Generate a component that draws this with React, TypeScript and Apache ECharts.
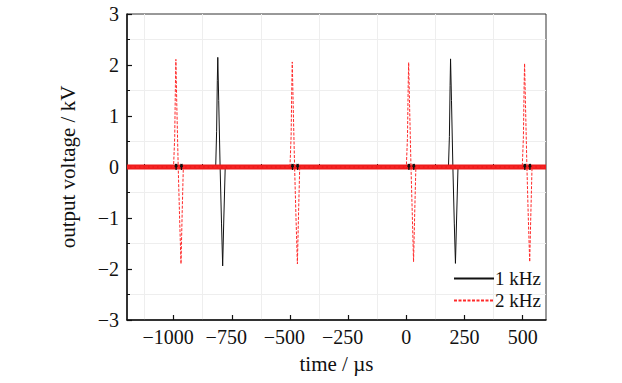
import React, { useEffect, useRef } from "react";
import * as echarts from "echarts";

const xMajorTicks = [-1000, -750, -500, -250, 0, 250, 500];
const xMinorTicks = [-1125, -875, -625, -375, -125, 125, 375];
const xRange = [-1200, 600];
const yRange = [-3, 3];

const seriesNames = ["1 kHz", "2 kHz"];

// 1 kHz trace (black): two bipolar pulses
const black1kHz: number[][] = [
  [-1200, 0],
  [-819, 0], [-815, 0.7], [-812, 1.7], [-810, 2.15], [-806, 1.3], [-800, 0],
  [-794, -1.1], [-789, -1.94], [-784, -1.0], [-778, 0],
  [181, 0], [185, 0.6], [188, 1.6], [190, 2.12], [194, 1.3], [200, 0],
  [206, -1.1], [211, -1.89], [216, -1.0], [222, 0],
  [600, 0],
];

// small ringing of the 1 kHz trace visible on top of the red baseline band
const blackRinging: (number[] | null)[] = [
  [-993, 0], [-991, 0.06], [-989, -0.06], [-987, 0.06], [-985, 0], null,
  [-970, 0], [-968, 0.06], [-966, -0.06], [-964, 0.06], [-962, 0], null,
  [-493, 0], [-491, 0.06], [-489, -0.06], [-487, 0.06], [-485, 0], null,
  [-471, 0], [-469, 0.06], [-467, -0.06], [-465, 0.06], [-463, 0], null,
  [7, 0], [9, 0.06], [11, -0.06], [13, 0.06], [15, 0], null,
  [28, 0], [30, 0.06], [32, -0.06], [34, 0.06], [36, 0], null,
  [505, 0], [507, 0.06], [509, -0.06], [511, 0.06], [513, 0], null,
  [527, 0], [529, 0.06], [531, -0.06], [533, 0.06], [535, 0],
];

// 2 kHz trace (red): four bipolar pulses
const red2kHz: number[][] = [
  [-1200, 0],
  [-1000, 0], [-995, 0.6], [-992, 1.6], [-990, 2.11], [-986, 1.2], [-980, 0],
  [-974, -1.0], [-968, -1.9], [-963, -0.9], [-958, 0],
  [-500, 0], [-495, 0.6], [-492, 1.6], [-490, 2.06], [-486, 1.2], [-480, 0],
  [-474, -1.0], [-468, -1.9], [-463, -0.9], [-458, 0],
  [0, 0], [5, 0.6], [8, 1.6], [10, 2.05], [14, 1.2], [20, 0],
  [26, -1.0], [31, -1.86], [36, -0.9], [41, 0],
  [498, 0], [503, 0.6], [506, 1.6], [508, 2.03], [512, 1.2], [518, 0],
  [524, -1.0], [530, -1.86], [535, -0.9], [540, 0],
  [600, 0],
];

// dense baseline noise band of the 2 kHz trace
const redBaseline: number[][] = [
  [-1200, 0],
  [600, 0],
];

const FONT = "Liberation Serif";
const TICK_SIZE = 20;

// x labels: digits centred on the tick, the minus sign hanging to the left
const xLabel = (v: number) =>
  v < 0 ? `{d|\u2212${Math.abs(v)}}{p|}` : `{d|${v}}`;
const yLabel = (v: number) => `{d|${String(v).replace("-", "\u2212")}}`;

const tickRich = {
  d: { fontFamily: FONT, fontSize: TICK_SIZE, color: "#111" },
  p: { fontFamily: FONT, fontSize: TICK_SIZE, width: 11 },
};

export default function App() {
  const ref = useRef<HTMLDivElement>(null);
  useEffect(() => {
    if (!ref.current) return;
    const chart = echarts.init(ref.current, null, { renderer: "svg" });
    chart.setOption({
      animation: false,
      backgroundColor: "#fff",
      grid: {
        left: 127,
        right: 76,
        top: 14,
        bottom: 63,
        show: true,
        borderColor: "#333",
        borderWidth: 1,
        backgroundColor: "transparent",
      },
      legend: {
        data: seriesNames,
        orient: "vertical",
        left: 453,
        top: 269,
        padding: 0,
        itemWidth: 40,
        itemHeight: 10,
        itemGap: 3,
        itemStyle: { opacity: 0 },
        textStyle: { fontFamily: FONT, fontSize: 19, color: "#111", padding: [0, 0, 0, -4] },
      },
      xAxis: [
        {
          type: "value",
          min: xRange[0],
          max: xRange[1],
          name: "time / \u00b5s",
          nameLocation: "middle",
          nameGap: 33,
          nameTextStyle: { fontFamily: FONT, fontSize: 21, color: "#111" },
          axisLine: { show: true, onZero: false, lineStyle: { color: "#111", width: 1.5 } },
          axisTick: {
            show: true,
            inside: true,
            length: 5,
            customValues: xMajorTicks,
            lineStyle: { color: "#111", width: 1.2 },
          },
          axisLabel: {
            customValues: xMajorTicks,
            formatter: xLabel,
            rich: tickRich,
            fontFamily: FONT,
            fontSize: TICK_SIZE,
            color: "#111",
            margin: 7,
          },
          splitLine: { show: false },
        },
        {
          type: "value",
          min: xRange[0],
          max: xRange[1],
          position: "bottom",
          axisLine: { show: false },
          axisTick: {
            show: true,
            inside: true,
            length: 3,
            customValues: xMinorTicks,
            lineStyle: { color: "#111", width: 1 },
          },
          axisLabel: { show: false, customValues: xMinorTicks },
          splitLine: { show: true, lineStyle: { color: "#eeeeee", width: 1 } },
        },
      ],
      yAxis: {
        type: "value",
        min: yRange[0],
        max: yRange[1],
        interval: 1,
        name: "output voltage / kV",
        nameLocation: "middle",
        nameGap: 49,
        nameRotate: 90,
        nameTextStyle: { fontFamily: FONT, fontSize: 21, color: "#111" },
        axisLine: { show: true, onZero: false, lineStyle: { color: "#111", width: 1.5 } },
        axisTick: { show: true, inside: true, length: 5, lineStyle: { color: "#111", width: 1.2 } },
        minorTick: { show: true, splitNumber: 2, length: 3, lineStyle: { color: "#111", width: 1 } },
        axisLabel: {
          formatter: yLabel,
          rich: tickRich,
          fontFamily: FONT,
          fontSize: TICK_SIZE,
          color: "#111",
          margin: 8,
        },
        splitLine: { show: false },
        minorSplitLine: { show: true, lineStyle: { color: "#eeeeee", width: 1 } },
      },
      series: [
        {
          name: seriesNames[0],
          type: "line",
          data: black1kHz,
          symbol: "none",
          z: 2,
          color: "#111",
          lineStyle: { color: "#111", width: 1 },
        },
        {
          name: "baseline",
          type: "line",
          data: redBaseline,
          symbol: "none",
          silent: true,
          z: 3,
          color: "#ee1c1c",
          lineStyle: { color: "#ee1c1c", width: 5 },
        },
        {
          name: seriesNames[1],
          type: "line",
          data: red2kHz,
          symbol: "none",
          z: 4,
          color: "#ff2a2a",
          lineStyle: { color: "#ff2a2a", width: 1, type: [3, 1.5] },
        },
        {
          name: "ringing",
          type: "line",
          data: blackRinging,
          symbol: "none",
          connectNulls: false,
          silent: true,
          z: 5,
          color: "#111",
          lineStyle: { color: "#111", width: 1.2 },
        },
      ],
    });
    return () => chart.dispose();
  }, []);
  return (
    <div
      ref={ref}
      style={{ position: "absolute", left: 0, top: 0, width: 622, height: 383 }}
    />
  );
}
